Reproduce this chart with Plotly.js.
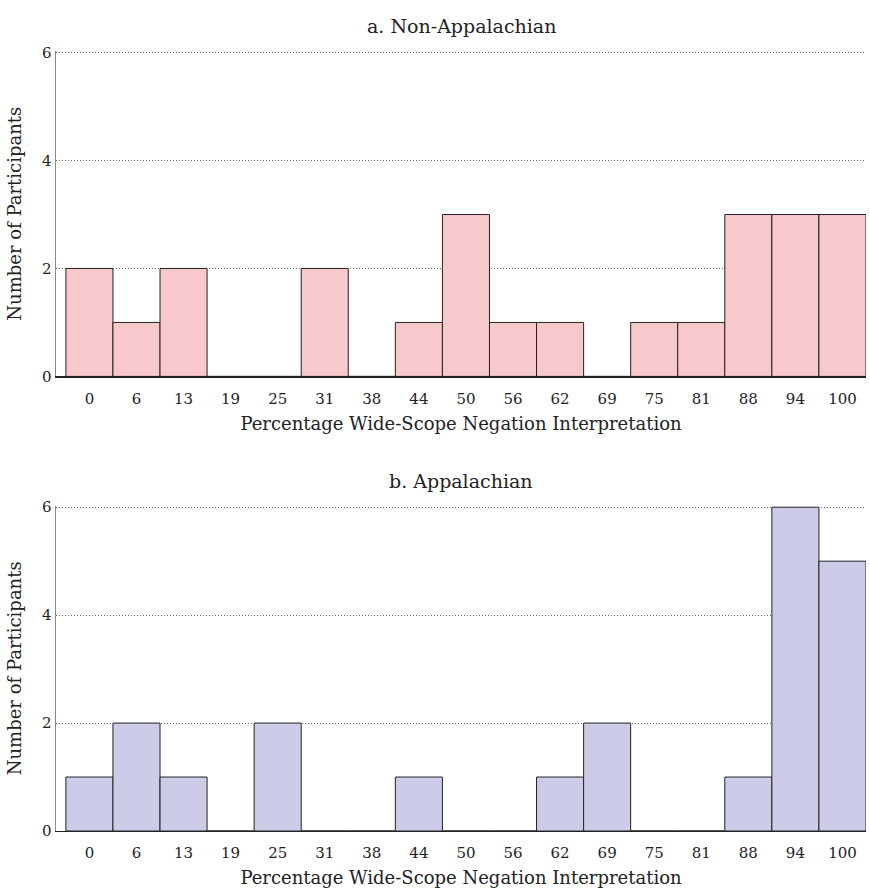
<!DOCTYPE html>
<html>
<head>
<meta charset="utf-8">
<script src="https://cdn.plot.ly/plotly-3.0.1.min.js"></script>
<style>html,body{margin:0;padding:0;background:#fff;}#chart{width:870px;height:892px;}</style>
</head>
<body>
<div id="chart"></div>
<script>
const categories = ["0","6","13","19","25","31","38","44","50","56","62","69","75","81","88","94","100"];
const nonAppalachian = [2,1,2,0,0,2,0,1,3,1,1,0,1,1,3,3,3];
const appalachian = [1,2,1,0,2,0,0,1,0,0,1,2,0,0,1,6,5];
const panelTitles = ["a. Non-Appalachian","b. Appalachian"];
const xTitle = "Percentage Wide-Scope Negation Interpretation";
const yTitle = "Number of Participants";
const yTicks = [0,2,4,6];

const FONT = "DejaVu Serif";
const traces = [
  {type:"bar", x:categories, y:nonAppalachian, xaxis:"x", yaxis:"y",
   marker:{color:"#f7c9cc", line:{color:"#222", width:1}}, hoverinfo:"x+y"},
  {type:"bar", x:categories, y:appalachian, xaxis:"x2", yaxis:"y2",
   marker:{color:"#cdcce8", line:{color:"#222", width:1}}, hoverinfo:"x+y"}
];

function xa(anchor){
  return {anchor:anchor, type:"category", range:[-0.71,16.5], showgrid:false, zeroline:false,
    showline:true, linecolor:"#222", linewidth:1.2, ticks:"outside", ticklen:8, tickcolor:"rgba(0,0,0,0)",
    tickfont:{family:FONT,size:15,color:"#222"},
    title:{text:xTitle, font:{family:FONT,size:18,color:"#222"}, standoff:10}, fixedrange:true};
}
function ya(anchor, dom){
  return {anchor:anchor, domain:dom, range:[0,6.03], tickvals:yTicks, ticktext:yTicks.map(String),
    showgrid:true, gridcolor:"#666", griddash:"1px,2px", gridwidth:1, zeroline:false,
    showline:true, linecolor:"#888", linewidth:1.5, ticks:"",
    tickfont:{family:FONT,size:15,color:"#222"},
    title:{text:yTitle, font:{family:FONT,size:18,color:"#222"}, standoff:15}, fixedrange:true};
}

const layout = {
  width:870, height:892,
  margin:{l:56, r:4, t:51, b:61},
  paper_bgcolor:"#fff", plot_bgcolor:"#fff",
  showlegend:false, bargap:0,
  font:{family:FONT, color:"#222"},
  xaxis: xa("y"),
  yaxis: ya("x", [0.5828,1]),
  xaxis2: xa("y2"),
  yaxis2: ya("x2", [0,0.4172]),
  annotations:[
    {text:panelTitles[0], xref:"paper", yref:"paper", x:0.5, y:1, yshift:25, xanchor:"center", yanchor:"middle",
     showarrow:false, font:{family:FONT,size:19,color:"#222"}},
    {text:panelTitles[1], xref:"paper", yref:"paper", x:0.5, y:0.4172, yshift:25, xanchor:"center", yanchor:"middle",
     showarrow:false, font:{family:FONT,size:19,color:"#222"}}
  ]
};
Plotly.newPlot("chart", traces, layout, {displayModeBar:false, staticPlot:true});
</script>
</body>
</html>
